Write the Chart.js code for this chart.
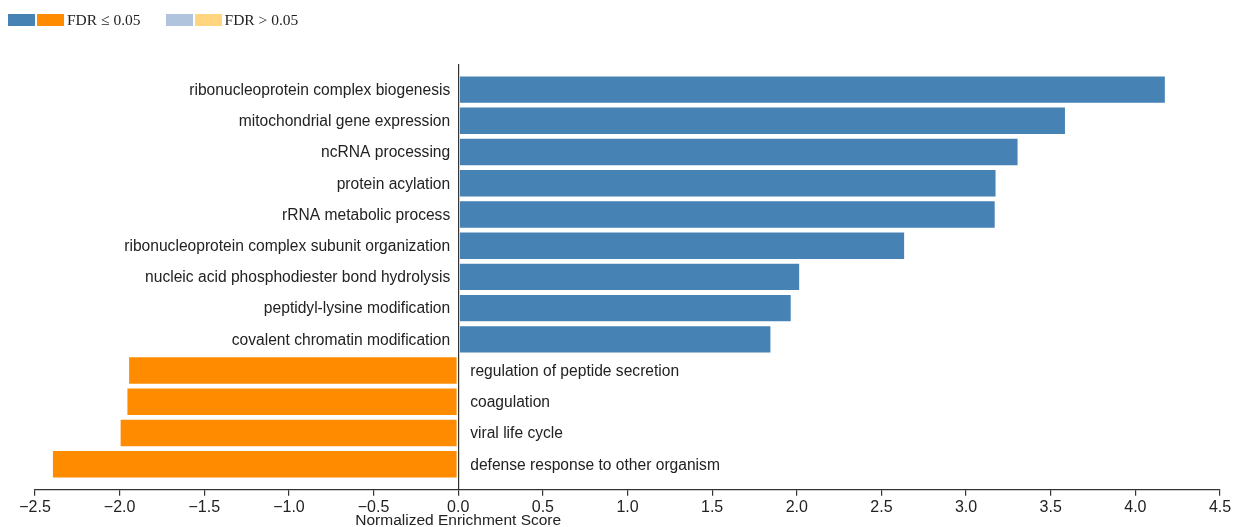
<!DOCTYPE html>
<html>
<head>
<meta charset="utf-8">
<script src="https://cdn.jsdelivr.net/npm/chart.js@4"></script>
<style>
  html, body { margin: 0; padding: 0; background: #fff; }
  #wrap { position: relative; width: 1234px; height: 527px; }
  #legend { position: absolute; left: 8px; top: 11px; font-family: "Liberation Serif", "Times New Roman", serif; font-size: 15.5px; color: #222; display: flex; align-items: center; }
  .box { display: inline-block; width: 27px; height: 12px; margin-right: 2px; }
  .lbl { margin-left: 1px; margin-right: 25px; }
</style>
</head>
<body>
<div id="wrap">
  <div id="legend">
    <span class="box" style="background:#4682B4"></span><span class="box" style="background:#FF8C00"></span><span class="lbl">FDR ≤ 0.05</span>
    <span class="box" style="background:#B0C4DE"></span><span class="box" style="background:#FFD580"></span><span class="lbl">FDR &gt; 0.05</span>
  </div>
  <canvas id="chart" width="1234" height="527"></canvas>
</div>
<script>
// GO terms, top to bottom
const terms = [
    'ribonucleoprotein complex biogenesis',
    'mitochondrial gene expression',
    'ncRNA processing',
    'protein acylation',
    'rRNA metabolic process',
    'ribonucleoprotein complex subunit organization',
    'nucleic acid phosphodiester bond hydrolysis',
    'peptidyl-lysine modification',
    'covalent chromatin modification',
    'regulation of peptide secretion',
    'coagulation',
    'viral life cycle',
    'defense response to other organism'
];

// normalized enrichment scores
const nes = [4.18, 3.59, 3.31, 3.18, 3.175, 2.64, 2.02, 1.97, 1.85, -1.95, -1.96, -2.00, -2.40];

// all terms significant (FDR <= 0.05)
const significant = [true, true, true, true, true, true, true, true, true, true, true, true, true];

const xTicks = [-2.5, -2.0, -1.5, -1.0, -0.5, 0.0, 0.5, 1.0, 1.5, 2.0, 2.5, 3.0, 3.5, 4.0, 4.5];

const colors = {
    up: '#4682B4', down: '#FF8C00',
    upLight: '#B0C4DE', downLight: '#FFD580'
};

const FONT = '"Liberation Sans", Arial, sans-serif';

function barColor(i) {
    if (nes[i] >= 0) return significant[i] ? colors.up : colors.upLight;
    return significant[i] ? colors.down : colors.downLight;
}

// term labels next to the zero line + axis title
const labelPlugin = {
    id: 'termLabels',
    afterDatasetsDraw(chart) {
        const ctx = chart.ctx;
        const xs = chart.scales.x;
        const ys = chart.scales.y;
        const x0 = xs.getPixelForValue(0);
        ctx.save();
        ctx.font = '15.6px ' + FONT;
        ctx.fillStyle = '#222';
        ctx.textBaseline = 'middle';
        terms.forEach((t, i) => {
            const y = ys.getPixelForValue(i) + 1;
            if (nes[i] >= 0) {
                ctx.textAlign = 'right';
                ctx.fillText(t, x0 - 8, y);
            } else {
                ctx.textAlign = 'left';
                ctx.fillText(t, x0 + 12, y);
            }
        });
        ctx.font = '15.5px ' + FONT;
        ctx.textAlign = 'center';
        ctx.textBaseline = 'alphabetic';
        ctx.fillText('Normalized Enrichment Score', x0, 525);
        ctx.restore();
    }
};

new Chart(document.getElementById('chart'), {
    type: 'bar',
    data: {
        datasets: [{
            data: nes.map((v, i) => ({ x: v, y: i })),
            backgroundColor: nes.map((v, i) => barColor(i)),
            borderColor: 'rgba(255,255,255,0.35)',
            borderWidth: 1,
            borderSkipped: false,
            categoryPercentage: 1.0,
            barPercentage: 0.91
        }]
    },
    options: {
        indexAxis: 'y',
        responsive: false,
        animation: false,
        layout: { padding: { top: 64, left: 35, right: 14, bottom: 8 } },
        plugins: { legend: { display: false }, tooltip: { enabled: false } },
        scales: {
            y: {
                type: 'linear',
                reverse: true,
                offset: false,
                min: -0.82,
                max: 12.82,
                afterBuildTicks: (axis) => { axis.ticks = terms.map((t, i) => ({ value: i })); },
                display: false
            },
            x: {
                type: 'linear',
                min: -2.5,
                max: 4.5,
                afterBuildTicks: (axis) => { axis.ticks = xTicks.map(v => ({ value: v })); },
                border: { display: true, color: '#333', width: 1.2 },
                grid: {
                    drawOnChartArea: true,
                    color: (c) => (c.tick && c.tick.value === 0 ? '#333' : 'rgba(0,0,0,0)'),
                    tickColor: '#333',
                    tickLength: 6,
                    lineWidth: 1.2
                },
                ticks: {
                    color: '#222',
                    padding: 2,
                    font: { family: FONT, size: 16 },
                    callback: (v) => (v < 0 ? '\u2212' : '') + Math.abs(Number(v)).toFixed(1)
                }
            }
        }
    },
    plugins: [labelPlugin]
});
</script>
</body>
</html>
